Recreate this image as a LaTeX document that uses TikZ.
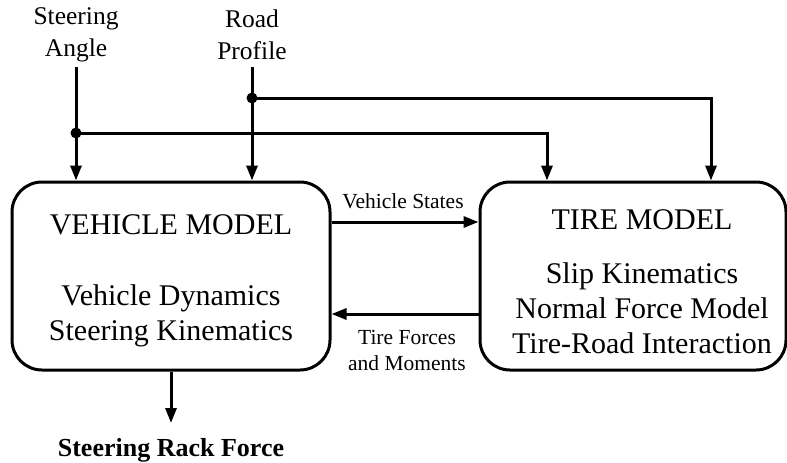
\documentclass[tikz,border=0pt]{standalone}
\usepackage{fontspec}
\setmainfont{Liberation Serif}
\usetikzlibrary{arrows.meta}
\tikzset{
  x=1pt, y=1pt,
  block/.style={draw, line width=3pt, rounded corners=30pt, inner sep=0pt},
  arr/.style={line width=3pt, -{Triangle[length=15pt,width=11pt]}},
  dot/.style={circle, fill, inner sep=0pt, minimum size=11pt},
  big/.style={font=\fontsize{30}{35}\selectfont, inner sep=0pt, align=center},
  inlabel/.style={font=\fontsize{25.5}{32}\selectfont, inner sep=0pt, align=center},
  siglabel/.style={font=\fontsize{21.5}{26}\selectfont, inner sep=0pt, align=center},
}
\begin{document}
\begin{tikzpicture}
\useasboundingbox (0,0) rectangle (787,-463);

% main blocks
\node[block, minimum width=318pt, minimum height=188pt] (veh) at (171,-276) {};
\node[block, minimum width=306pt, minimum height=188pt] (tire) at (633,-276) {};

% block contents
\node[big] (vehtitle) at (171,-225) {VEHICLE MODEL};
\node[big] (vehbody) at (171,-315.5) {Vehicle Dynamics\\Steering Kinematics};
\node[big] (tiretitle) at (642,-220) {TIRE MODEL};
\node[big] (tirebody) at (642,-308) {Slip Kinematics\\Normal Force Model\\Tire-Road Interaction};

% external inputs
\node[inlabel] (sa) at (76,-35) {Steering\\Angle};
\node[inlabel] (rp) at (252,-35) {Road\\Profile};
\coordinate (sa0) at (76,-67);
\coordinate (rp0) at (252,-67);
\node[dot] (j1) at (76,-133) {};
\node[dot] (j2) at (252,-98) {};

\draw[arr] (sa0) -- (sa0 |- veh.north);
\draw[arr] (rp0) -- (rp0 |- veh.north);
\draw[arr] (j1.center) -| ([xshift=-86pt]tire.north);
\draw[arr] (j2.center) -| ([xshift=78pt]tire.north);

% signals between the models
\draw[arr] ([yshift=54pt]veh.east) -- ([yshift=54pt]tire.west);
\node[siglabel] (vs) at (403,-201) {Vehicle States};
\draw[arr] ([yshift=-38pt]tire.west) -- ([yshift=-38pt]veh.east);
\node[siglabel] (tf) at (407,-350) {Tire Forces\\and Moments};

% output
\coordinate (outtip) at (171,-423);
\draw[arr] (veh.south) -- (outtip);
\node[font=\fontsize{26}{30}\selectfont\bfseries, inner sep=0pt] (out) at (171,-450) {Steering Rack Force};
\end{tikzpicture}
\end{document}
